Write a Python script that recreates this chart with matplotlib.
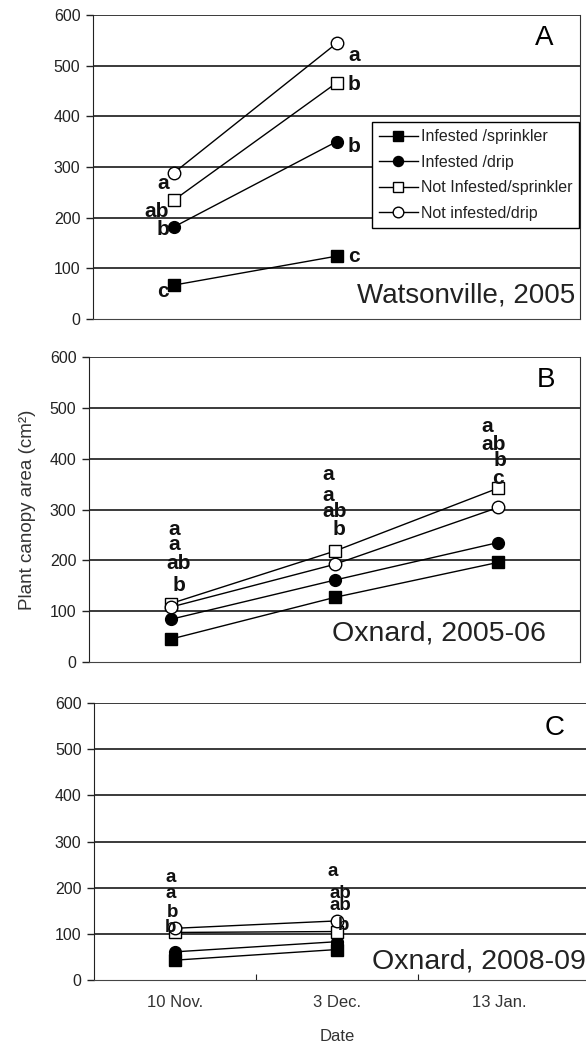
import matplotlib
matplotlib.use("Agg")
import matplotlib.pyplot as plt

plt.rcParams['font.family'] = ['Liberation Sans', 'DejaVu Sans']

# ---------------- data ----------------
dates = ['10 Nov.', '3 Dec.', '13 Jan.']
series_names = ['Infested /sprinkler', 'Infested /drip',
                'Not Infested/sprinkler', 'Not infested/drip']

# Panel A: Watsonville, 2005 (two dates)
a_inf_spr = [67, 124]
a_inf_drip = [182, 350]
a_not_spr = [235, 466]
a_not_drip = [289, 544]

# Panel B: Oxnard, 2005-06 (three dates)
b_inf_spr = [45, 127, 196]
b_inf_drip = [84, 161, 235]
b_not_spr = [115, 218, 342]
b_not_drip = [108, 192, 304]

# Panel C: Oxnard, 2008-09 (two dates)
c_inf_spr = [43, 66]
c_inf_drip = [61, 83]
c_not_spr = [103, 105]
c_not_drip = [112, 128]

# significance letters: (date index, x offset, y value, letter)
letters_A = [(1, 0.11, 521, 'a'), (1, 0.11, 463, 'b'), (1, 0.11, 341, 'b'), (1, 0.11, 124, 'c'),
             (0, -0.07, 268, 'a'), (0, -0.11, 212, 'ab'), (0, -0.07, 177, 'b'), (0, -0.07, 54, 'c')]
letters_B = [(0, 0.02, 260, 'a'), (0, 0.02, 232, 'a'), (0, 0.05, 193, 'ab'), (0, 0.05, 150, 'b'),
             (1, -0.04, 368, 'a'), (1, -0.04, 327, 'a'), (1, 0.0, 296, 'ab'), (1, 0.026, 260, 'b'),
             (2, -0.07, 464, 'a'), (2, -0.03, 427, 'ab'), (2, 0.01, 396, 'b'), (2, 0.0, 361, 'c')]
letters_C = [(0, -0.025, 223, 'a'), (0, -0.025, 188, 'a'), (0, -0.015, 147, 'b'), (0, -0.025, 114, 'b'),
             (1, -0.025, 234, 'a'), (1, 0.02, 188, 'ab'), (1, 0.02, 161, 'ab'), (1, 0.04, 117, 'b')]

yticks = [0, 100, 200, 300, 400, 500, 600]

# ---------------- figure ----------------
W, H = 586, 1047
fig = plt.figure(figsize=(W / 100, H / 100), dpi=100)


def fx(px):
    return px / W


def fy(py):
    return 1 - py / H


def make_axes(left, right, top, bottom):
    return fig.add_axes([fx(left), fy(bottom), fx(right) - fx(left), fy(top) - fy(bottom)])


axA = make_axes(93, 580, 15, 319)
axB = make_axes(89, 580, 357, 662)
axC = make_axes(94, 586, 703, 980)

styles = [dict(marker='s', mfc='black'), dict(marker='o', mfc='black'),
          dict(marker='s', mfc='white'), dict(marker='o', mfc='white')]
msizes = [8.5, 8.5, 9, 9]

grid_col = '#2b2b2b'


def style_axes(ax, right_spine=True, xlim=(-0.5, 2.5)):
    ax.set_ylim(0, 600)
    ax.set_xlim(*xlim)
    ax.set_yticks(yticks)
    ax.set_yticklabels([str(t) for t in yticks], fontsize=11.5, color='#222222')
    ax.tick_params(axis='y', direction='out', length=5, width=1, pad=4, color='#222222')
    for t in yticks[1:]:
        ax.axhline(t, color=grid_col, lw=1.3, zorder=1)
    ax.spines['left'].set_color('#222222')
    ax.spines['bottom'].set_color('#444444')
    ax.spines['top'].set_visible(False)
    if right_spine:
        ax.spines['right'].set_color('#333333')
    else:
        ax.spines['right'].set_visible(False)


def plot_series(ax, series, n):
    handles = []
    for vals, st, ms, name in zip(series, styles, msizes, series_names):
        h, = ax.plot(range(n), vals, color='black', lw=1.0, mec='black', mew=1.0,
                     ms=ms, label=name, zorder=3, **st)
        handles.append(h)
    return handles


def put_letters(ax, letters, fs):
    for idx, dx, yv, txt in letters:
        ax.text(idx + dx, yv, txt, ha='center', va='center', fontsize=fs,
                fontweight='bold', color='#111111', zorder=5)


# Panel A
style_axes(axA)
hA = plot_series(axA, [a_inf_spr, a_inf_drip, a_not_spr, a_not_drip], 2)
put_letters(axA, letters_A, 15)
axA.set_xticks([])
axA.text(0.927, 0.925, 'A', transform=axA.transAxes, ha='center', va='center', fontsize=20)
axA.text(0.991, 0.076, 'Watsonville, 2005', transform=axA.transAxes, ha='right', va='center',
         fontsize=20, color='#222222')
leg = fig.legend(handles=hA, loc='upper left', bbox_to_anchor=(fx(372), fy(122)),
                 bbox_transform=fig.transFigure, fontsize=11.5, frameon=True, fancybox=False,
                 edgecolor='black', framealpha=1, borderaxespad=0, borderpad=0.45,
                 handlelength=2.4, handletextpad=0.2, labelspacing=0.66, markerscale=0.85)
leg.get_frame().set_linewidth(1.0)
for t in leg.get_texts():
    t.set_color('#222222')

# Panel B
style_axes(axB)
plot_series(axB, [b_inf_spr, b_inf_drip, b_not_spr, b_not_drip], 3)
put_letters(axB, letters_B, 15)
axB.set_xticks([])
axB.text(0.93, 0.925, 'B', transform=axB.transAxes, ha='center', va='center', fontsize=20)
axB.text(0.93, 0.095, 'Oxnard, 2005-06', transform=axB.transAxes, ha='right', va='center',
         fontsize=20.5, color='#222222')
axB.set_ylabel('Plant canopy area (cm²)', fontsize=13.5, color='#333333', labelpad=10)

# Panel C
style_axes(axC, right_spine=False, xlim=(-0.5, 2.5 + 6 / 162))
plot_series(axC, [c_inf_spr, c_inf_drip, c_not_spr, c_not_drip], 2)
put_letters(axC, letters_C, 13.5)
axC.set_xticks([0.5, 1.5], minor=False)
axC.set_xticklabels([])
axC.tick_params(axis='x', direction='in', length=4, color='#222222')
for i, d in enumerate(dates):
    axC.text(i, -0.08, d, transform=axC.get_xaxis_transform(), ha='center', va='center',
             fontsize=12, color='#333333')
axC.text(1, -0.205, 'Date', transform=axC.get_xaxis_transform(), ha='center', va='center',
         fontsize=12, color='#333333')
axC.text(0.936, 0.91, 'C', transform=axC.transAxes, ha='center', va='center', fontsize=20)
axC.text(1.0, 0.065, 'Oxnard, 2008-09', transform=axC.transAxes, ha='right', va='center',
         fontsize=20.5, color='#222222')

fig.savefig('out.png', dpi=100)
